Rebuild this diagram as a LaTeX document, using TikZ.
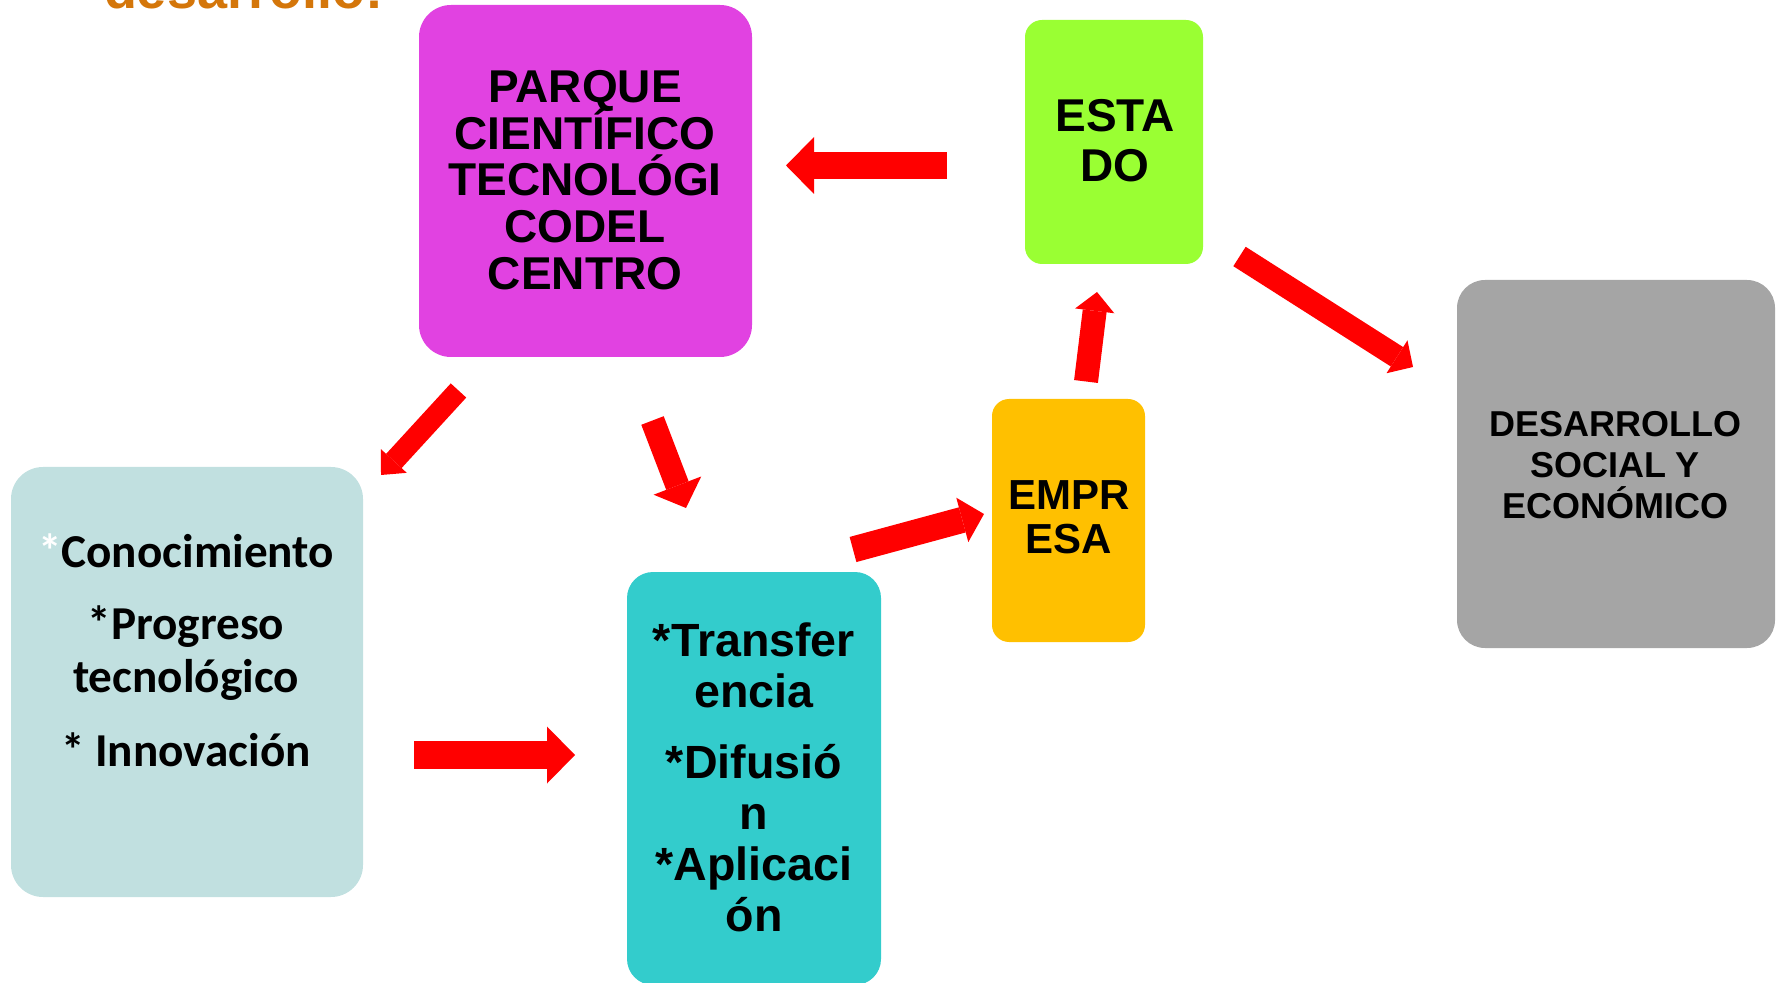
\documentclass[tikz,border=0pt]{standalone}
\usepackage{fontspec}
\setmainfont{Liberation Sans}
\newfontfamily\calibri{Carlito}
\usetikzlibrary{arrows.meta}
\definecolor{cOrange}{HTML}{D4760A}
\definecolor{cMagenta}{HTML}{E142E1}
\definecolor{cLight}{HTML}{C1E0E0}
\definecolor{cTeal}{HTML}{33CCCC}
\definecolor{cGreen}{HTML}{9AFF33}
\definecolor{cYellow}{HTML}{FFC000}
\definecolor{cGray}{HTML}{A5A5A5}
\definecolor{cRed}{HTML}{FF0000}
\tikzset{
  box/.style={rectangle, draw=none, inner sep=0pt, outer sep=0pt},
  txt/.style={align=center, inner sep=0pt, outer sep=0pt, text=black},
  barrow/.style n args={3}{draw=cRed, line width=#1,
     -{Triangle[width=#2 0 0, length=#3 0 0, line width=0pt 0 0]}},
}
\begin{document}
\begin{tikzpicture}[x=0.5pt, y=-0.5pt]
\useasboundingbox (0,0) rectangle (1776,983);
\clip (0,0) rectangle (1776,983);

% partially visible heading
\node[txt, anchor=base west, text=cOrange, font=\bfseries\fontsize{27}{30}\selectfont] (head) at (104,9) {desarrollo:};

% boxes
\node[box, fill=cMagenta, rounded corners=16pt, minimum width=166.5pt, minimum height=176pt] (parque) at (585.5,181) {};
\node[box, fill=cLight, rounded corners=16pt, minimum width=176pt, minimum height=215pt] (cono) at (187,682) {};
\node[box, fill=cTeal, rounded corners=13pt, minimum width=127pt, minimum height=206.5pt] (trans) at (754,778.5) {};
\node[box, fill=cGreen, rounded corners=8.5pt, minimum width=89pt, minimum height=122pt] (estado) at (1114,142) {};
\node[box, fill=cYellow, rounded corners=8.5pt, minimum width=76.5pt, minimum height=121.5pt] (empresa) at (1068.5,520.5) {};
\node[box, fill=cGray, rounded corners=14pt, minimum width=159pt, minimum height=184pt] (desa) at (1616,464) {};

% texts
\node[txt, font={\bfseries\fontsize{23}{23.35}\selectfont\lineskiplimit=-50pt}] (ptxt) at (585,180)
  {PARQUE\\CIENTÍFICO\\TECNOLÓGI\\CODEL\\CENTRO};
\node[txt, font={\calibri\bfseries\fontsize{23.6}{26.5}\selectfont\lineskiplimit=-50pt}] (ctxt) at (186,650)
  {\textcolor{white}{*}Conocimiento\\[9.5pt]*Progreso\\tecnológico\\[10.5pt]* Innovación};
\node[txt, font={\bfseries\fontsize{23.3}{25.5}\selectfont\lineskiplimit=-50pt}] (ttxt) at (754,777)
  {*Transfer\\encia\\[10pt]*Difusió\\n\\*Aplicaci\\ón};
\node[txt, font={\bfseries\fontsize{23}{25}\selectfont\lineskiplimit=-50pt}] (etxt) at (1115,141) {ESTA\\DO};
\node[txt, font={\bfseries\fontsize{21}{22}\selectfont\lineskiplimit=-50pt}] (mtxt) at (1069,517.5) {EMPR\\ESA};
\node[txt, font={\bfseries\fontsize{18}{20.5}\selectfont\lineskiplimit=-50pt}] (dtxt) at (1615,465.5)
  {DESARROLLO\\SOCIAL Y\\ECONÓMICO};

% arrow end points
\coordinate (a1s) at (947,165.5);   \coordinate (a1e) at (786,165.5);
\coordinate (a2s) at (458.5,390.5); \coordinate (a2e) at (381,475);
\coordinate (a3s) at (652.5,420.5); \coordinate (a3e) at (686,508);
\coordinate (a4s) at (414,755);     \coordinate (a4e) at (575,755);
\coordinate (a5s) at (853,549.5);   \coordinate (a5e) at (984,514);
\coordinate (a6s) at (1086,381.5);  \coordinate (a6e) at (1097,292);
\coordinate (a7s) at (1239.5,256.5);\coordinate (a7e) at (1413,367);

% arrows
\draw[barrow={13.5pt}{28.5pt}{14pt}] (a1s) -- (a1e);
\draw[barrow={10.5pt}{17.5pt}{9.5pt}] (a2s) -- (a2e);
\draw[barrow={12pt}{25.5pt}{12pt}] (a3s) -- (a3e);
\draw[barrow={14pt}{28.5pt}{14pt}] (a4s) -- (a4e);
\draw[barrow={13pt}{23pt}{11.25pt}] (a5s) -- (a5e);
\draw[barrow={12pt}{19.75pt}{9.5pt}] (a6s) -- (a6e);
\draw[barrow={11.5pt}{19.5pt}{9.5pt}] (a7s) -- (a7e);
\end{tikzpicture}
\end{document}
